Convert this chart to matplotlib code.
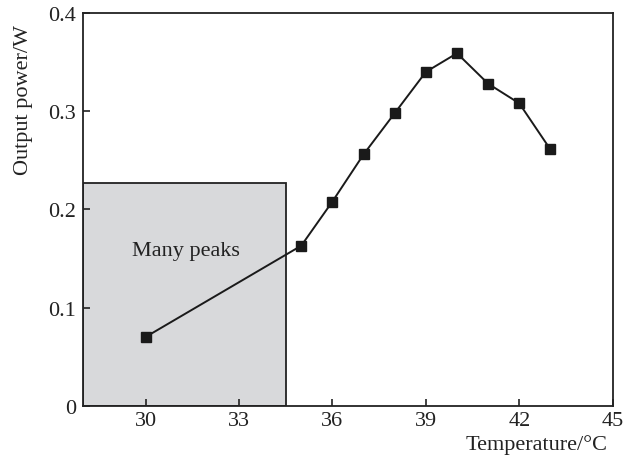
import matplotlib
matplotlib.use('Agg')
import matplotlib.pyplot as plt
from matplotlib.patches import Rectangle

# temperature (°C) vs output power (W)
temperature = [30, 35, 36, 37, 38, 39, 40, 41, 42, 43]
output_power = [0.070, 0.163, 0.208, 0.256, 0.298, 0.340, 0.359, 0.328, 0.308, 0.261]

x_ticks = [30, 33, 36, 39, 42, 45]
y_ticks = [0, 0.1, 0.2, 0.3, 0.4]
y_ticklabels = ['0', '0.1', '0.2', '0.3', '0.4']

# shaded "many peaks" region
region_x_end = 34.5
region_top = 0.227

plt.rcParams['font.family'] = ['Liberation Serif', 'DejaVu Serif']
fs = 16

fig = plt.figure(figsize=(6.34, 4.64), dpi=100)
ax = fig.add_axes([0.1314, 0.1235, 0.835, 0.8463])

x_min, x_max = 28, 45
ax.add_patch(Rectangle((x_min, 0), region_x_end - x_min, region_top,
                       facecolor='#d8d9db', edgecolor='#222222', linewidth=1.3, zorder=1))
ax.text(31.3, 0.158, 'Many peaks', ha='center', va='center', fontsize=fs, color='#222222', zorder=2)

ax.plot(temperature, output_power, color='#1a1a1a', linewidth=1.4,
        marker='s', markersize=6.5, zorder=3)

ax.set_xlim(x_min, x_max)
ax.set_ylim(0, 0.4)
ax.set_xticks(x_ticks)
ax.set_yticks(y_ticks)
ax.set_yticklabels(y_ticklabels)
ax.tick_params(direction='in', length=5, width=1.2, labelsize=fs, colors='#222222', pad=5)
ax.tick_params(axis='x', pad=4)

for s in ax.spines.values():
    s.set_color('#222222')
    s.set_linewidth(1.3)

ax.set_ylabel('Output power/W', fontsize=fs, color='#222222', va='center')
ax.yaxis.set_label_coords(-0.113, 0.78)
ax.set_xlabel('Temperature/°C', fontsize=fs, color='#222222', ha='right', va='center')
ax.xaxis.set_label_coords(0.99, -0.097)

fig.savefig('out.png', dpi=100)
